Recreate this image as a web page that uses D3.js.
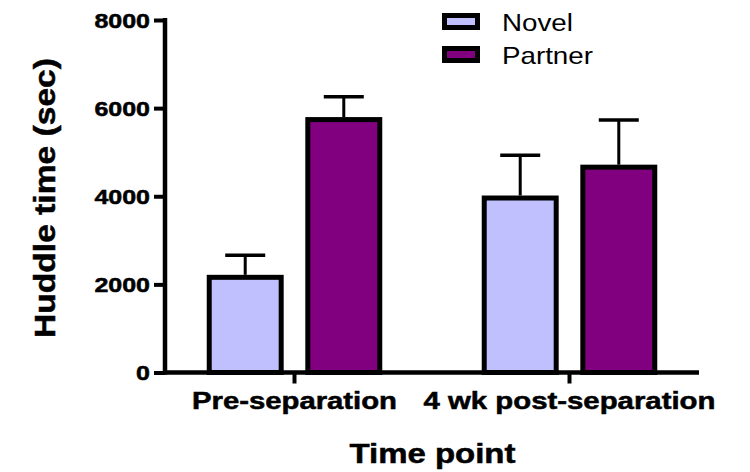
<!DOCTYPE html>
<html>
<head>
<meta charset="utf-8">
<script src="https://cdn.jsdelivr.net/npm/d3@7"></script>
<style>
  body { margin: 0; background: #fff; }
  text { font-family: 'Liberation Sans', Arial, sans-serif; }
  .heavy { font-weight: bold; stroke: #000; stroke-width: 0.5px; }
</style>
</head>
<body>
<script>
// Chart data
const timePoints = ['Pre-separation', '4 wk post-separation'];
const groups = ['Novel', 'Partner'];
const novelMean = [2160, 3960];
const novelSem = [500, 970];
const partnerMean = [5740, 4660];
const partnerSem = [520, 1070];
const yTicks = [0, 2000, 4000, 6000, 8000];
const colors = ['#c0c0ff', '#800080'];

const rows = [];
timePoints.forEach((t, i) => {
  rows.push({ time: t, group: 'Novel', mean: novelMean[i], sem: novelSem[i] });
  rows.push({ time: t, group: 'Partner', mean: partnerMean[i], sem: partnerSem[i] });
});

const width = 750;
const height = 472;
const svg = d3
  .select('body')
  .append('svg')
  .attr('width', width)
  .attr('height', height);

// Stretch a text horizontally so it fills the wanted width
function fitText(node, x, y, target, rotate) {
  const w = node.getComputedTextLength();
  const k = target / w;
  d3.select(node)
    .attr('x', 0)
    .attr('y', 0)
    .attr('transform', `translate(${x},${y})${rotate ? ' rotate(-90)' : ''} scale(${k},1)`);
}

// Scales
const axisX = 165;
const axisEnd = 699;
const y = d3.scaleLinear().domain([0, 8000]).range([372.5, 20]);
const x0 = d3.scaleBand().domain(timePoints).range([157, 707]);
const x1 = d3
  .scaleBand()
  .domain(groups)
  .range([0, x0.bandwidth()])
  .paddingInner(0.27)
  .paddingOuter(0.53);
const color = d3.scaleOrdinal().domain(groups).range(colors);

// Bars
svg
  .selectAll('.bar')
  .data(rows)
  .enter()
  .append('rect')
  .attr('class', 'bar')
  .attr('x', (d) => x0(d.time) + x1(d.group))
  .attr('y', (d) => y(d.mean))
  .attr('width', x1.bandwidth())
  .attr('height', (d) => y(0) - y(d.mean))
  .attr('fill', (d) => color(d.group))
  .attr('stroke', '#000')
  .attr('stroke-width', 5);

// Error bars (upper only)
const err = svg.selectAll('.err').data(rows).enter().append('g').attr('class', 'err');
const cx = (d) => x0(d.time) + x1(d.group) + x1.bandwidth() / 2;

err
  .append('line')
  .attr('x1', cx)
  .attr('x2', cx)
  .attr('y1', (d) => y(d.mean) - 2.5)
  .attr('y2', (d) => y(d.mean + d.sem))
  .attr('stroke', '#000')
  .attr('stroke-width', 3);

err
  .append('line')
  .attr('x1', (d) => cx(d) - 20)
  .attr('x2', (d) => cx(d) + 20)
  .attr('y1', (d) => y(d.mean + d.sem))
  .attr('y2', (d) => y(d.mean + d.sem))
  .attr('stroke', '#000')
  .attr('stroke-width', 3.5);

// Y axis
const yAxis = svg
  .append('g')
  .attr('transform', `translate(${axisX},0)`)
  .call(
    d3
      .axisLeft(y)
      .tickValues(yTicks)
      .tickFormat(d3.format('d'))
      .tickSize(11)
      .tickSizeOuter(0)
      .tickPadding(0)
  );

yAxis.select('.domain').remove();
yAxis.selectAll('.tick line').attr('stroke', '#000').attr('stroke-width', 4);
yAxis
  .selectAll('.tick text')
  .attr('class', 'heavy')
  .attr('x', -15 / 1.22)
  .attr('dy', '0.36em')
  .attr('transform', 'scale(1.22,1)')
  .style('font-size', '20.5px')
  .attr('fill', '#000');

svg
  .append('line')
  .attr('x1', axisX)
  .attr('x2', axisX)
  .attr('y1', y(8000) - 2)
  .attr('y2', y(0) + 2)
  .attr('stroke', '#000')
  .attr('stroke-width', 4.5);

// X axis
const xAxis = svg
  .append('g')
  .attr('transform', `translate(0,${y(0)})`)
  .call(d3.axisBottom(x0).tickSize(11).tickSizeOuter(0).tickFormat(''));

xAxis.select('.domain').remove();
xAxis.selectAll('.tick line').attr('stroke', '#000').attr('stroke-width', 4);

svg
  .append('line')
  .attr('x1', axisX - 2)
  .attr('x2', axisEnd)
  .attr('y1', y(0))
  .attr('y2', y(0))
  .attr('stroke', '#000')
  .attr('stroke-width', 4.5);

// X tick labels
const labelWidths = [205, 292];
svg
  .selectAll('.xlabel')
  .data(timePoints)
  .enter()
  .append('text')
  .attr('class', 'xlabel heavy')
  .attr('text-anchor', 'middle')
  .style('font-size', '23px')
  .text((d) => d)
  .each(function (d, i) {
    fitText(this, x0(d) + x0.bandwidth() / 2, 409, labelWidths[i]);
  });

// Axis titles
svg
  .append('text')
  .attr('class', 'heavy')
  .attr('text-anchor', 'middle')
  .style('font-size', '27px')
  .text('Time point')
  .each(function () {
    fitText(this, 432.5, 463, 166);
  });

svg
  .append('text')
  .attr('class', 'heavy')
  .attr('text-anchor', 'middle')
  .style('font-size', '30px')
  .text('Huddle time (sec)')
  .each(function () {
    fitText(this, 55, 198, 280, true);
  });

// Legend
const legendWidths = [71, 91];
const legend = svg
  .selectAll('.legend')
  .data(groups)
  .enter()
  .append('g')
  .attr('class', 'legend')
  .attr('transform', (d, i) => `translate(0,${i * 33})`);

legend
  .append('rect')
  .attr('x', 444.5)
  .attr('y', 15.5)
  .attr('width', 33)
  .attr('height', 12)
  .attr('fill', (d) => color(d))
  .attr('stroke', '#000')
  .attr('stroke-width', 5);

legend
  .append('text')
  .style('font-size', '23px')
  .text((d) => d)
  .each(function (d, i) {
    fitText(this, 502, 31, legendWidths[i]);
  });
</script>
</body>
</html>
